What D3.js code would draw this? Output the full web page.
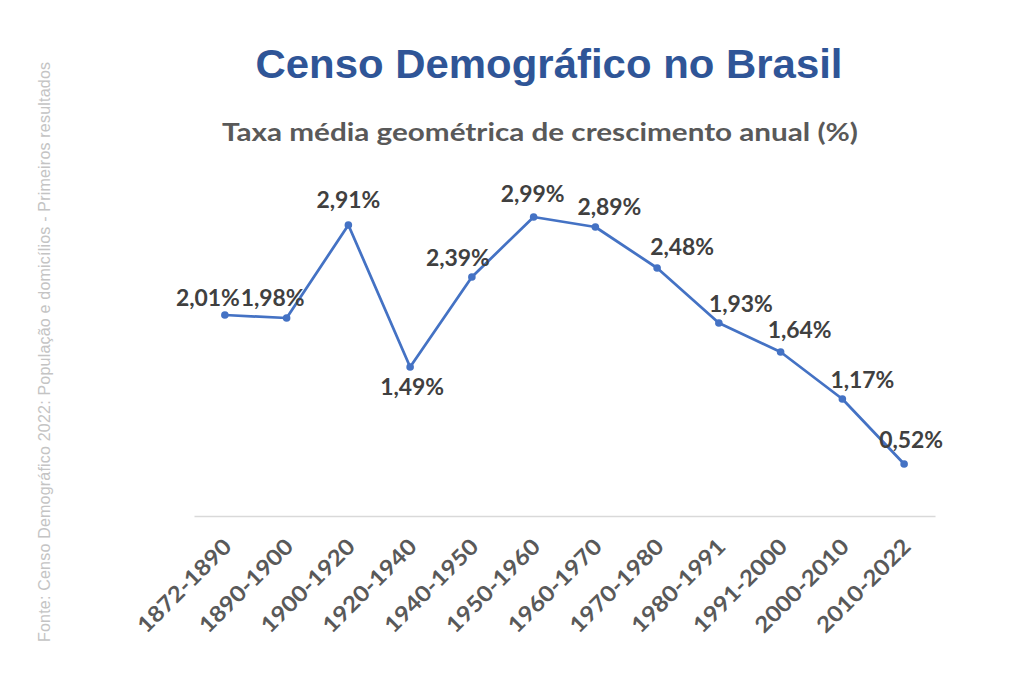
<!DOCTYPE html>
<html>
<head>
<meta charset="utf-8">
<script src="https://cdnjs.cloudflare.com/ajax/libs/d3/7.8.5/d3.min.js"></script>
<style>
  body { margin: 0; background: #fff; }
  svg { display: block; }
</style>
</head>
<body>
<div id="chart"></div>
<script>
var periods = ["1872-1890", "1890-1900", "1900-1920", "1920-1940", "1940-1950", "1950-1960",
               "1960-1970", "1970-1980", "1980-1991", "1991-2000", "2000-2010", "2010-2022"];
var rates = [2.01, 1.98, 2.91, 1.49, 2.39, 2.99, 2.89, 2.48, 1.93, 1.64, 1.17, 0.52];
// label placement nudges (px) so the labels sit like in the original
var labelDx = [-17, -14, 0, 2, -14, -1, 14, 25, 22, 19, 20, 7];
var labelDy = [-9, -12, -17, 28, -11, -15, -12, -13, -11, -14, -11, -16];

var width = 1024, height = 675;
var blue = "#4472c4", grey = "#595959";
var font = "Lato, 'Open Sans', sans-serif";

var svg = d3.select("#chart").append("svg")
    .attr("width", width)
    .attr("height", height);

var x = d3.scaleBand()
    .domain(periods)
    .range([194, 935]);

var y = d3.scaleLinear()
    .domain([0, 3])
    .range([516, 216]);

// side note
svg.append("text")
    .attr("transform", "translate(50,352) rotate(-90)")
    .attr("text-anchor", "middle")
    .attr("textLength", 580)
    .style("font-family", "'Liberation Sans', Arial, sans-serif")
    .style("font-size", "16px")
    .style("fill", "#c4c4c4")
    .text("Fonte: Censo Demográfico 2022: População e domicílios - Primeiros resultados");

// titles
svg.append("text")
    .attr("x", 549).attr("y", 78)
    .attr("text-anchor", "middle")
    .attr("textLength", 587)
    .attr("lengthAdjust", "spacingAndGlyphs")
    .style("font-family", "'Liberation Sans', Arial, sans-serif")
    .style("font-weight", "bold")
    .style("font-size", "40px")
    .style("fill", "#2f5597")
    .text("Censo Demográfico no Brasil");

svg.append("text")
    .attr("x", 540).attr("y", 141)
    .attr("text-anchor", "middle")
    .attr("textLength", 636)
    .attr("lengthAdjust", "spacingAndGlyphs")
    .style("font-family", font)
    .style("font-weight", "bold")
    .style("font-size", "24px")
    .style("fill", grey)
    .text("Taxa média geométrica de crescimento anual (%)");

// baseline axis
var xAxis = svg.append("g")
    .attr("transform", "translate(0," + y(0) + ")")
    .call(d3.axisBottom(x).tickSize(0).tickPadding(0));
xAxis.select(".domain").attr("stroke", "#d9d9d9").attr("stroke-width", 1.5);
xAxis.selectAll(".tick text")
    .attr("text-anchor", "end")
    .attr("dy", 0)
    .attr("transform", "translate(8,32) rotate(-45)")
    .attr("textLength", 122)
    .attr("lengthAdjust", "spacingAndGlyphs")
    .style("font-family", font)
    .style("font-weight", "bold")
    .style("font-size", "22px")
    .style("fill", grey);

// line
var cx = function(d, i) { return x(periods[i]) + x.bandwidth() / 2; };

svg.append("path")
    .datum(rates)
    .attr("fill", "none")
    .attr("stroke", blue)
    .attr("stroke-width", 2.75)
    .attr("stroke-linejoin", "round")
    .attr("d", d3.line().x(cx).y(function(d) { return y(d); }));

svg.selectAll("circle.pt")
    .data(rates)
    .enter()
    .append("circle")
    .attr("class", "pt")
    .attr("cx", cx)
    .attr("cy", function(d) { return y(d); })
    .attr("r", 3.8)
    .style("fill", blue);

svg.selectAll("text.lbl")
    .data(rates)
    .enter()
    .append("text")
    .attr("class", "lbl")
    .attr("x", function(d, i) { return cx(d, i) + labelDx[i]; })
    .attr("y", function(d, i) { return y(d) + labelDy[i]; })
    .attr("text-anchor", "middle")
    .attr("textLength", 64)
    .attr("lengthAdjust", "spacingAndGlyphs")
    .style("font-family", font)
    .style("font-weight", "bold")
    .style("font-size", "22px")
    .style("fill", "#404040")
    .text(function(d) { return d.toFixed(2).replace(".", ",") + "%"; });
</script>
</body>
</html>
